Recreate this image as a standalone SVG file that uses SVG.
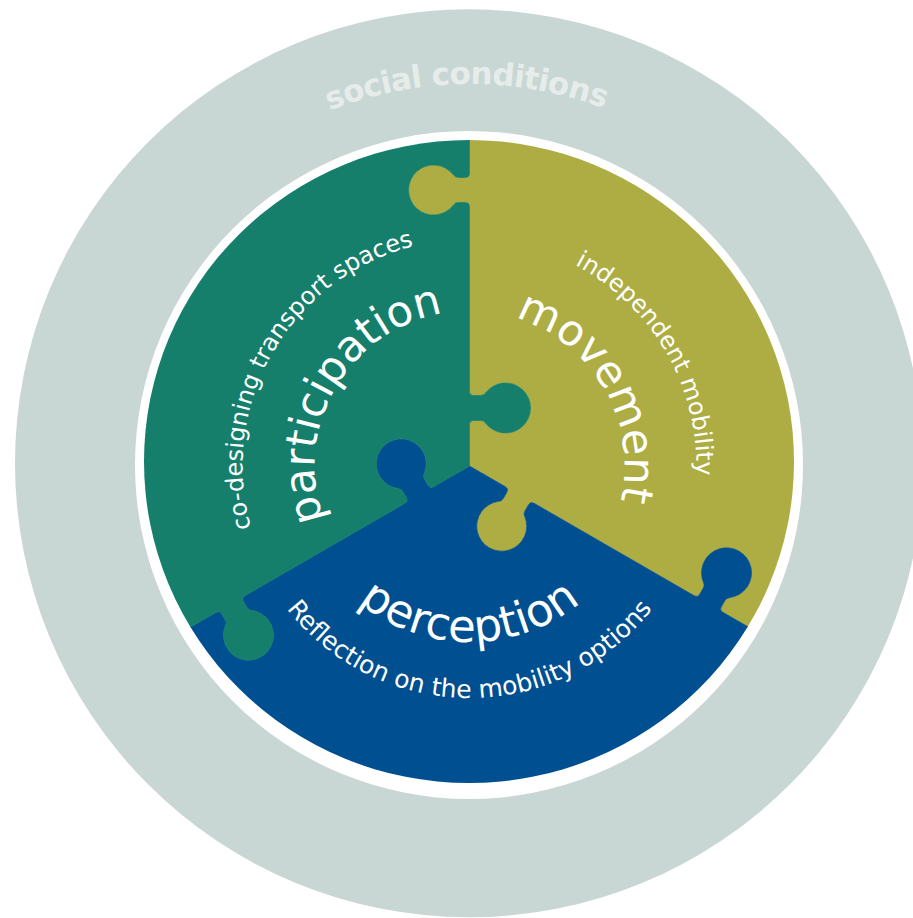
<svg xmlns="http://www.w3.org/2000/svg" xmlns:xlink="http://www.w3.org/1999/xlink" width="913" height="918" viewBox="0 0 913 918">
  <style>
    .olive { fill: #adad44; stroke: #adad44; stroke-width: 0.6; }
    .blue { fill: #005091; stroke: #005091; stroke-width: 0.6; }
    .green { fill: #157f6c; stroke: #157f6c; stroke-width: 0.6; }
    .big { font-family: "DejaVu Sans", "Liberation Sans", sans-serif; font-size: 43px; fill: #ffffff; }
    .small { font-family: "DejaVu Sans", "Liberation Sans", sans-serif; font-size: 24px; fill: #ffffff; }
    .ring-label { font-family: "DejaVu Sans", "Liberation Sans", sans-serif; font-size: 31px; font-weight: bold; fill: #e6ecea; letter-spacing: -0.75px; }
  </style>
  <defs>
    <path id="piece" d="M0,0 L35.94,20.75 Q39.40,22.75 37.40,26.21 L33.90,32.28 Q32.15,35.31 29.24,35.36 A25,25 0 1 0 55.22,50.36 Q53.81,47.81 55.56,44.78 L59.06,38.71 Q61.06,35.25 64.52,37.25 L224.73,129.75 Q228.19,131.75 230.19,128.29 L233.69,122.22 Q235.44,119.19 234.03,116.64 A25,25 0 1 1 260.01,131.64 Q257.10,131.69 255.35,134.72 L251.85,140.79 Q249.85,144.25 253.31,146.25 L294.45,170 A340,340 0 0 0 0,-340 L0,-292.5 Q0,-288.5 -4,-288.5 L-11,-288.5 Q-14.5,-288.5 -16,-291 A25,25 0 1 0 -16,-261 Q-14.5,-263.5 -11,-263.5 L-4,-263.5 Q0,-263.5 0,-259.5 L0,-74.5 Q0,-70.5 4,-70.5 L11,-70.5 Q14.5,-70.5 16,-73 A25,25 0 1 1 16,-43 Q14.5,-45.5 11,-45.5 L4,-45.5 Q0,-45.5 0,-41.5 Z"/>
    <clipPath id="discClip">
      <ellipse cx="469" cy="461.5" rx="325" ry="321.5"/>
    </clipPath>
    <!-- clockwise circles starting at the bottom -->
    <path id="cw155" d="M469.5,621 A155,155 0 1 1 469.5,311 A155,155 0 1 1 469.5,621"/>
    <path id="cw227" d="M469.5,693 A227,227 0 1 1 469.5,239 A227,227 0 1 1 469.5,693"/>
    <path id="cw382" d="M469.5,848 A382,382 0 1 1 469.5,84 A382,382 0 1 1 469.5,848"/>
    <!-- counter-clockwise circles starting at the top -->
    <path id="ccw176" d="M469.5,290 A176,176 0 1 0 469.5,642 A176,176 0 1 0 469.5,290"/>
    <path id="ccw232" d="M469.5,234 A232,232 0 1 0 469.5,698 A232,232 0 1 0 469.5,234"/>
  </defs>

  <g id="social-conditions">
    <circle cx="469" cy="463.3" r="454" fill="#c8d7d4"/>
    <text class="ring-label"><textPath href="#cw382" startOffset="49.87%" text-anchor="middle">social conditions</textPath></text>
  </g>

  <g id="white-border">
    <circle cx="469" cy="465" r="334" fill="#ffffff"/>
  </g>

  <g id="movement">
    <g clip-path="url(#discClip)">
      <use href="#piece" class="olive" transform="translate(469.5,466)"/>
    </g>
    <text class="big"><textPath href="#cw155" startOffset="66.667%" text-anchor="middle">movement</textPath></text>
    <text class="small"><textPath href="#cw227" startOffset="66.667%" text-anchor="middle">independent mobility</textPath></text>
  </g>

  <g id="perception">
    <g clip-path="url(#discClip)">
      <use href="#piece" class="blue" transform="translate(469.5,466) rotate(120)"/>
    </g>
    <text class="big" style="font-size:45px"><textPath href="#ccw176" startOffset="50%" text-anchor="middle">perception</textPath></text>
    <text class="small" style="font-size:25px"><textPath href="#ccw232" startOffset="50%" text-anchor="middle">Reflection on the mobility options</textPath></text>
  </g>

  <g id="participation">
    <g clip-path="url(#discClip)">
      <use href="#piece" class="green" transform="translate(469.5,466) rotate(240)"/>
    </g>
    <text class="big"><textPath href="#cw155" startOffset="33.333%" text-anchor="middle">participation</textPath></text>
    <text class="small"><textPath href="#cw227" startOffset="33.333%" text-anchor="middle">co-designing transport spaces</textPath></text>
  </g>
</svg>
